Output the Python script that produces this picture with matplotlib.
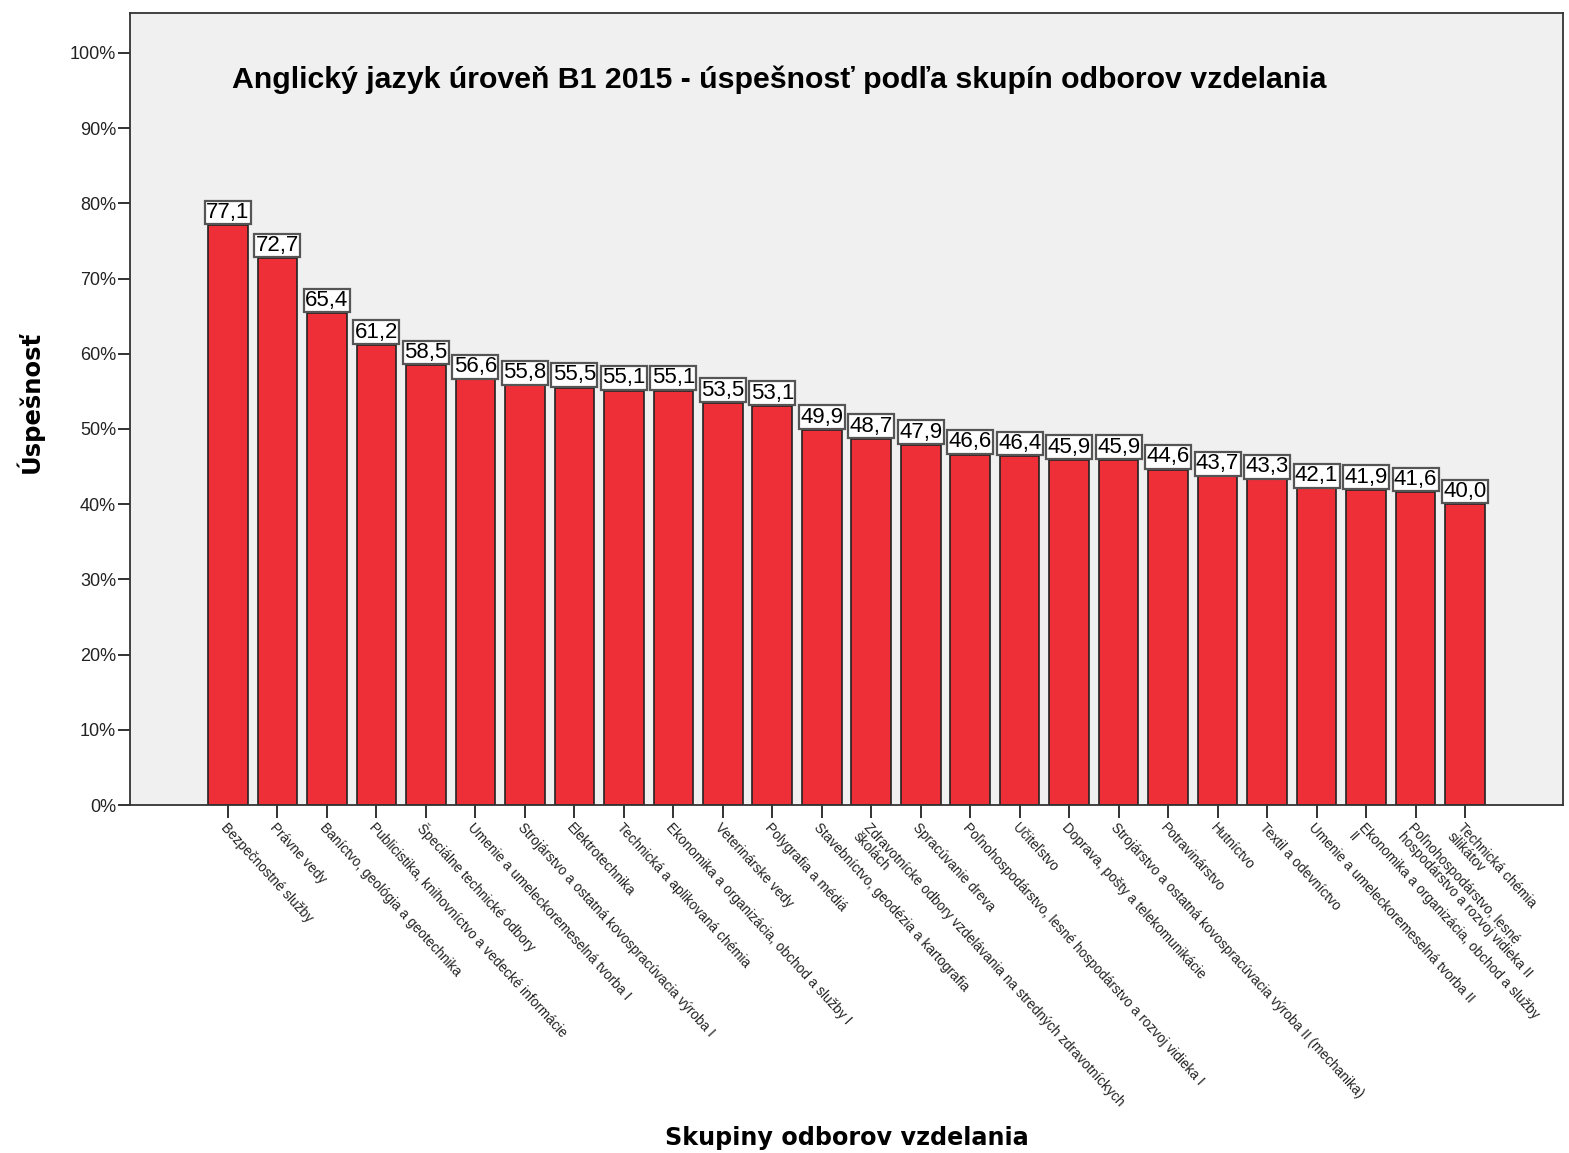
import numpy as np
import matplotlib
matplotlib.use('Agg')
import matplotlib.pyplot as plt

# skupiny odborov a uspesnost v %
skupiny = [
    'Bezpečnostné služby',
    'Právne vedy',
    'Baníctvo, geológia a geotechnika',
    'Publicistika, knihovníctvo a vedecké informácie',
    'Špeciálne technické odbory',
    'Umenie a umeleckoremeselná tvorba I',
    'Strojárstvo a ostatná kovospracúvacia výroba I',
    'Elektrotechnika',
    'Technická a aplikovaná chémia',
    'Ekonomika a organizácia, obchod a služby I',
    'Veterinárske vedy',
    'Polygrafia a médiá',
    'Stavebníctvo, geodézia a kartografia',
    'Zdravotnícke odbory vzdelávania na stredných zdravotníckych\nškolách',
    'Spracúvanie dreva',
    'Poľnohospodárstvo, lesné hospodárstvo a rozvoj vidieka I',
    'Učiteľstvo',
    'Doprava, pošty a telekomunikácie',
    'Strojárstvo a ostatná kovospracúvacia výroba II (mechanika)',
    'Potravinárstvo',
    'Hutníctvo',
    'Textil a odevníctvo',
    'Umenie a umeleckoremeselná tvorba II',
    'Ekonomika a organizácia, obchod a služby\nII',
    'Poľnohospodárstvo, lesné\nhospodárstvo a rozvoj vidieka II',
    'Technická chémia\nsilikátov',
]
uspesnost = [77.1, 72.7, 65.4, 61.2, 58.5, 56.6, 55.8, 55.5, 55.1, 55.1,
             53.5, 53.1, 49.9, 48.7, 47.9, 46.6, 46.4, 45.9, 45.9, 44.6,
             43.7, 43.3, 42.1, 41.9, 41.6, 40.0]
yticks = list(range(0, 101, 10))

plt.rcParams['font.family'] = ['Liberation Sans', 'DejaVu Sans']

fig = plt.figure(figsize=(15.69, 11.53), dpi=100)
ax = fig.add_axes([130/1569, 1-805/1153, (1563-130)/1569, (805-13)/1153])
ax.set_facecolor('#f0f0f0')

x = np.arange(len(skupiny))
ax.bar(x, uspesnost, width=0.8, color='#ef2f38', edgecolor='#222222', linewidth=1.2)

# hodnoty nad stlpcami
for xi, v in zip(x, uspesnost):
    ax.annotate(('%.1f' % v).replace('.', ','), (xi, v), xytext=(0, 1.5),
                textcoords='offset points', ha='center', va='bottom', fontsize=16,
                bbox=dict(boxstyle='square,pad=0.06', fc='white', ec='#555555', lw=1.6))

ax.set_xlim(-1.98, len(skupiny) - 1 + 1.98)
ax.set_ylim(0, 105.3)
ax.set_yticks(yticks)
ax.set_yticklabels(['%d%%' % t for t in yticks], fontsize=13, color='#222222')
ax.set_xticks(x)
ax.set_xticklabels(skupiny, rotation=-47.5, ha='left', va='top', rotation_mode='anchor',
                   fontsize=9.8, color='#222222', linespacing=1.0)
ax.tick_params(axis='both', direction='out', length=9, width=1.3, color='#222222')
ax.tick_params(axis='x', pad=2)
ax.tick_params(axis='y', pad=1)
for s in ax.spines.values():
    s.set_color('#333333')
    s.set_linewidth(1.3)

fig.text(232/1569, 1-80/1153, 'Anglický jazyk úroveň B1 2015 - úspešnosť podľa skupín odborov vzdelania',
         fontsize=21.8, fontweight='bold', ha='left', va='center')
fig.text(29/1569, 1-402/1153, 'Úspešnosť', rotation=90, fontsize=17.5, fontweight='bold',
         ha='center', va='center', family='DejaVu Sans')
fig.text(847/1569, 1-1138/1153, 'Skupiny odborov vzdelania', fontsize=17.2, fontweight='bold',
         ha='center', va='center', family='DejaVu Sans')

plt.savefig('out.png', dpi=100)
